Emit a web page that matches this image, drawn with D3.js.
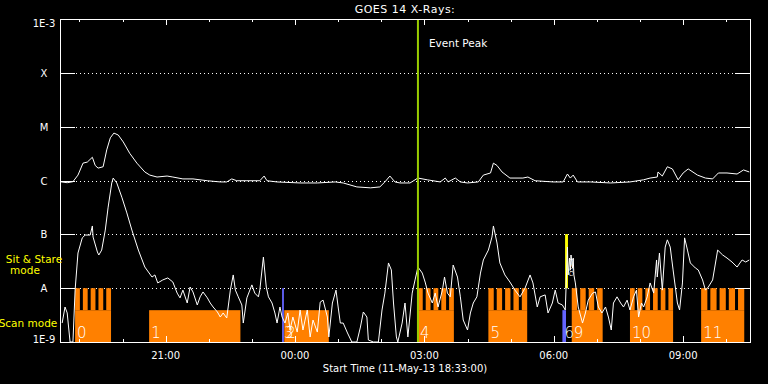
<!DOCTYPE html>
<html>
<head>
<meta charset="utf-8">
<script src="https://cdn.jsdelivr.net/npm/d3@7"></script>
<style>
body{margin:0;background:#000}
svg{display:block}
text{font-family:"DejaVu Sans",sans-serif;fill:#fff}
</style>
</head>
<body>
<div id="main"></div>
<script>
// GOES 14 x-ray flux, two channels, with the observing-mode bars underneath
var startTime = Date.UTC(2013, 4, 11, 18, 33, 0);
var spanMin = 960;

var classLabels = ["1E-9", "A", "B", "C", "M", "X", "1E-3"];
var classFlux = [1e-9, 1e-8, 1e-7, 1e-6, 1e-5, 1e-4, 1e-3];

// long channel (1-8 A), minutes after start / W m-2
var longMin = [0,10,18,25,32,38,45,49,53,60,
  65,70,75,81,88,97,107,118,125,135,
  149,157,171,185,205,223,232,239,246,260,
  278,284,288,302,334,358,383,394,413,432,
  445,452,459,466,473,487,498,511,529,536,
  540,550,557,567,582,589,599,603,608,615,
  626,644,651,661,686,700,706,710,714,720,
  738,766,793,812,821,831,832,838,845,852,
  860,867,874,887,898,908,916,928,942,951,
  959];
var longFlux = [9.5e-7,9.1e-7,9.5e-7,1.26e-6,2.1e-6,2.2e-6,2.7e-6,1.9e-6,1.7e-6,1.8e-6,
  3.7e-6,6.2e-6,7.6e-6,7.0e-6,5.2e-6,3.2e-6,2.1e-6,1.44e-6,1.26e-6,1.16e-6,
  1.21e-6,1.16e-6,1.07e-6,1.07e-6,9.9e-7,9.4e-7,9.4e-7,1.07e-6,9.9e-7,9.9e-7,
  9.9e-7,1.21e-6,9.9e-7,9.4e-7,9.0e-7,9.0e-7,9.4e-7,9.0e-7,7.6e-7,7.3e-7,
  7.6e-7,9.4e-7,1.21e-6,9.4e-7,9.0e-7,9.0e-7,1.11e-6,1.03e-6,9.4e-7,1.11e-6,
  9.4e-7,1.11e-6,9.4e-7,9.0e-7,9.4e-7,1.26e-6,1.38e-6,2.1e-6,1.9e-6,1.44e-6,
  1.11e-6,1.11e-6,1.16e-6,9.9e-7,9.4e-7,9.4e-7,1.32e-6,1.11e-6,1.26e-6,9.4e-7,
  9.4e-7,9.0e-7,9.4e-7,1.03e-6,1.11e-6,1.16e-6,1.44e-6,1.21e-6,1.8e-6,1.64e-6,
  1.03e-6,1.38e-6,1.64e-6,1.26e-6,1.11e-6,1.07e-6,1.38e-6,1.38e-6,1.32e-6,1.57e-6,
  1.44e-6];

// short channel (0.5-4 A)
var shortMin = [3,7,10,14,18,21,25,31,35,42,
  45,46,52,54,58,63,67,72,74,79,
  86,93,100,109,118,128,132,136,143,150,
  157,163,167,171,177,181,185,191,195,199,
  205,209,213,219,223,227,232,237,241,244,
  248,253,255,260,267,271,276,278,283,287,
  290,295,299,302,306,309,313,317,320,324,
  330,334,338,344,348,352,358,362,366,372,
  374,379,384,387,390,394,400,406,413,418,
  422,427,429,436,443,448,452,457,461,464,
  468,470,476,480,484,490,494,498,504,508,
  512,518,522,526,532,535,539,543,547,553,
  557,561,567,571,575,580,585,589,596,601,
  603,608,612,619,626,633,640,647,654,658,
  664,668,675,679,685,689,693,699,703,706,
  707,709,710,711,713,714,715,717,721,727,
  731,735,741,745,749,754,759,763,767,770,
  775,780,784,789,793,798,802,805,809,812,
  817,821,826,830,831,834,838,842,845,849,
  853,859,862,866,869,873,877,884,888,894,
  898,902,908,915,922,928,935,942,949,954,
  959];
var shortFlux = [2.25e-9,4.47e-9,3.46e-9,1e-9,1e-9,9.2e-9,4.5e-8,8.6e-8,9.7e-8,9.7e-8,
  1.43e-7,8.9e-8,4.7e-8,4.13e-8,5.1e-8,1.2e-7,3.2e-7,9.0e-7,1.11e-6,9.0e-7,
  4.9e-7,2.5e-7,1.2e-7,5.1e-8,2.47e-8,1.61e-8,1.76e-8,1.25e-8,1.42e-8,1.55e-8,
  1.30e-8,8.1e-9,6.6e-9,9.2e-9,5.3e-9,1.05e-8,8.5e-9,4.87e-9,6.9e-9,8.5e-9,
  6.6e-9,5.3e-9,4.47e-9,3.61e-9,2.91e-9,3.46e-9,2.79e-9,9.2e-9,1.76e-8,9.2e-9,
  6.9e-9,4.87e-9,2.25e-9,6.6e-9,1.15e-8,8.1e-9,6.9e-9,9.2e-9,3.79e-8,1.05e-8,
  6.9e-9,5.3e-9,3.46e-9,2.25e-9,4.47e-9,2.91e-9,2.25e-9,3.46e-9,1.67e-9,2.91e-9,
  1.53e-9,3.93e-9,1.67e-9,3.93e-9,1.24e-9,2.56e-9,1.53e-9,5.5e-9,6.0e-9,2.91e-9,
  1.24e-9,5.3e-9,9.2e-9,4.47e-9,2.25e-9,2.25e-9,1.47e-9,1e-9,1e-9,1.9e-9,
  3.61e-9,2.91e-9,1.09e-9,1e-9,1e-9,3.93e-9,8.1e-9,2.94e-8,2.18e-8,5.3e-9,
  1.24e-9,1e-9,2.25e-9,5.3e-9,1.24e-9,8.1e-9,1.42e-8,2.47e-8,1.91e-8,1.30e-8,
  8.1e-9,5.3e-9,8.1e-9,4.47e-9,9.2e-9,1.61e-8,8.1e-9,6.9e-9,2.69e-8,1.61e-8,
  6.9e-9,2.56e-9,1.67e-9,3.46e-9,5.3e-9,6.9e-9,1.91e-8,3.34e-8,5.1e-8,8.9e-8,
  1.43e-7,6.9e-8,2.94e-8,1.76e-8,1.30e-8,9.2e-9,6.9e-9,1.0e-8,1.76e-8,1.25e-8,
  4.47e-9,6.9e-9,7.5e-9,3.46e-9,5.3e-9,9.2e-9,5.3e-9,4.87e-9,3.93e-9,5.8e-8,
  1.76e-8,3.63e-8,2.18e-8,4.13e-8,2.37e-8,3.63e-8,1.76e-8,1.25e-8,4.47e-9,2.25e-9,
  3.46e-9,6.0e-9,8.1e-9,8.5e-9,4.47e-9,3.46e-9,4.47e-9,2.91e-9,1.67e-9,5.3e-9,
  6.9e-9,5.3e-9,4.47e-9,6.0e-9,3.93e-9,6.9e-9,9.2e-9,2.91e-9,5.3e-9,4.47e-9,
  6.9e-9,1.25e-8,8.1e-9,3.34e-8,1.61e-8,4.5e-8,9.2e-9,5.8e-8,7.9e-8,5.8e-8,
  2.18e-8,5.3e-9,3.93e-9,1.25e-8,8.6e-8,5.1e-8,2.94e-8,2.37e-8,2.18e-8,1.42e-8,
  9.2e-9,1.05e-8,1.42e-8,5.1e-8,4.13e-8,3.63e-8,3.06e-8,2.47e-8,3.34e-8,3.06e-8,
  3.34e-8];

// scan mode blocks (orange), minutes after start; teeth = number of scans drawn
var scanIds = ["0", "1", "2", "4", "5", "9", "10", "11"];
var scanStart = [21, 124, 312, 498, 596, 712, 793, 892];
var scanEnd = [71, 251, 374, 548, 650, 755, 853, 952];
var scanTeeth = [5, 0, 0, 5, 5, 4, 6, 5];

// short blue markers
var markIds = ["3", "6"];
var markStart = [309, 699];
var markEnd = [311.5, 704];
var markTop = [1e-8, 3.9e-9];

// sit & stare (yellow)
var stareIds = ["7", "8"];
var stareStart = [703, 703];
var stareEnd = [706.5, 706.5];

var peakMin = 498;

var width = 768, height = 384;
var margin = {top: 19, right: 18, bottom: 42, left: 60};

var svg = d3.select("#main")
  .append("svg")
  .attr("width", width)
  .attr("height", height)
  .style("background", "#000");

var t = m => new Date(startTime + m * 60000);

var x = d3.scaleUtc()
  .domain([t(0), t(spanMin)])
  .range([margin.left, width - margin.right]);
var y = d3.scaleLog()
  .domain([1e-9, 1e-3])
  .range([height - margin.bottom, margin.top]);

var x0 = margin.left, x1 = width - margin.right;
var yBot = y(1e-9), yTopP = y(1e-3);
var scanBase = 3.9e-9;

svg.append("clipPath").attr("id", "plot")
  .append("rect").attr("x", x0).attr("y", yTopP).attr("width", x1 - x0).attr("height", yBot - yTopP);

// dotted class lines
svg.append("g")
  .selectAll("line")
  .data(classFlux.slice(1, 6))
  .join("line")
    .attr("x1", x0).attr("x2", x1)
    .attr("y1", d => Math.round(y(d)) + 0.5)
    .attr("y2", d => Math.round(y(d)) + 0.5)
    .attr("stroke", "#fff")
    .attr("stroke-dasharray", "1,3");

// mode bars
var modes = svg.append("g").attr("fill", "#ff8000");
scanIds.forEach(function(id, i) {
  var a = x(t(scanStart[i])), b = x(t(scanEnd[i]));
  modes.append("rect")
    .attr("x", a).attr("y", y(scanBase))
    .attr("width", b - a).attr("height", yBot - y(scanBase));
  var n = scanTeeth[i];
  if (n > 0) {
    var gap = 3, w = (b - a - (n - 1) * gap) / n;
    modes.selectAll(null)
      .data(d3.range(n))
      .join("rect")
        .attr("x", k => a + k * (w + gap))
        .attr("y", y(1e-8))
        .attr("width", w)
        .attr("height", y(scanBase) - y(1e-8));
  }
});

svg.append("g")
  .selectAll("rect")
  .data(markIds)
  .join("rect")
    .attr("x", (d, i) => x(t(markStart[i])))
    .attr("y", (d, i) => y(markTop[i]))
    .attr("width", (d, i) => x(t(markEnd[i])) - x(t(markStart[i])))
    .attr("height", (d, i) => yBot - y(markTop[i]))
    .attr("fill", "#6464ff");

svg.append("g")
  .selectAll("rect")
  .data(stareIds)
  .join("rect")
    .attr("x", (d, i) => x(t(stareStart[i])))
    .attr("y", y(1e-7))
    .attr("width", (d, i) => x(t(stareEnd[i])) - x(t(stareStart[i])))
    .attr("height", y(1e-8) - y(1e-7))
    .attr("fill", "#ffff00");

// block numbers (the original overprints 2/3 and 7/8)
var lab = svg.append("g").attr("font-size", 15).attr("font-weight", 300);
lab.selectAll(null)
  .data(scanIds)
  .join("text")
    .attr("x", (d, i) => x(t(scanStart[i])) + 2)
    .attr("y", 338)
    .text(d => d);
lab.selectAll(null)
  .data(markIds)
  .join("text")
    .attr("x", (d, i) => x(t(markStart[i])) + 2)
    .attr("y", 338)
    .text(d => d);
lab.selectAll(null)
  .data(stareIds)
  .join("text")
    .attr("font-size", 10)
    .attr("x", (d, i) => x(t(stareStart[i])) + 3)
    .attr("y", (d, i) => 267 + i * 9)
    .text(d => d);

// flux curves
var line = d3.line()
  .x(d => x(t(d[0])))
  .y(d => y(d[1]));

var curves = svg.append("g")
  .attr("clip-path", "url(#plot)")
  .attr("fill", "none")
  .attr("stroke", "#fff")
  .attr("stroke-width", 1);
curves.append("path").attr("d", line(d3.zip(longMin, longFlux)));
curves.append("path").attr("d", line(d3.zip(shortMin, shortFlux)));

// event peak
svg.append("line")
  .attr("x1", x(t(peakMin))).attr("x2", x(t(peakMin)))
  .attr("y1", yTopP).attr("y2", yBot)
  .attr("stroke", "#99cc00")
  .attr("stroke-width", 2);
svg.append("text")
  .attr("x", x(t(peakMin)) + 11)
  .attr("y", 47)
  .attr("font-size", 10.5)
  .text("Event Peak");

// frame and ticks
var axes = svg.append("g").attr("stroke", "#fff").attr("fill", "none");
axes.append("rect")
  .attr("x", x0 + 0.5).attr("y", yTopP + 0.5)
  .attr("width", x1 - x0).attr("height", yBot - yTopP);

axes.selectAll(null)
  .data(classFlux.slice(1, 6))
  .join("path")
    .attr("d", d => {
      var yy = Math.round(y(d)) + 0.5;
      return "M" + x0 + "," + yy + "h15M" + (x1 - 15) + "," + yy + "h15";
    });

var hours = x.ticks(d3.utcHour.every(1));
axes.selectAll(null)
  .data(hours)
  .join("path")
    .attr("d", d => {
      var xx = Math.round(x(d)) + 0.5;
      var len = d.getUTCHours() % 3 === 0 ? 6 : 3;
      return "M" + xx + "," + yTopP + "v" + len + "M" + xx + "," + yBot + "v" + (-len);
    });

var fmt = d3.utcFormat("%H:%M");
svg.append("g")
  .attr("font-size", 10)
  .attr("text-anchor", "middle")
  .selectAll("text")
  .data(hours.filter(d => d.getUTCHours() % 3 === 0))
  .join("text")
    .attr("x", d => x(d))
    .attr("y", 359)
    .text(d => fmt(d));

svg.append("g")
  .attr("font-size", 10)
  .attr("text-anchor", "middle")
  .selectAll("text")
  .data(classFlux)
  .join("text")
    .attr("x", 44)
    .attr("y", d => Math.max(27, Math.min(343, y(d) + 4)))
    .text((d, i) => classLabels[i]);

svg.append("text")
  .attr("x", (x0 + x1) / 2)
  .attr("y", 13)
  .attr("font-size", 11)
  .attr("letter-spacing", 0.5)
  .attr("text-anchor", "middle")
  .text("GOES 14 X-Rays:");

svg.append("text")
  .attr("x", (x0 + x1) / 2)
  .attr("y", 372)
  .attr("font-size", 10)
  .attr("text-anchor", "middle")
  .text("Start Time (11-May-13 18:33:00)");

// mode legend
var leg = svg.append("g").attr("font-size", 10.5).attr("text-anchor", "middle");
leg.append("text").attr("x", 34).attr("y", 263).style("fill", "#ffff00").text("Sit & Stare");
leg.append("text").attr("x", 25).attr("y", 274).style("fill", "#ffff00").text("mode");
leg.append("text").attr("x", 28).attr("y", 327).style("fill", "#ffff00").text("Scan mode");
</script>
</body>
</html>
